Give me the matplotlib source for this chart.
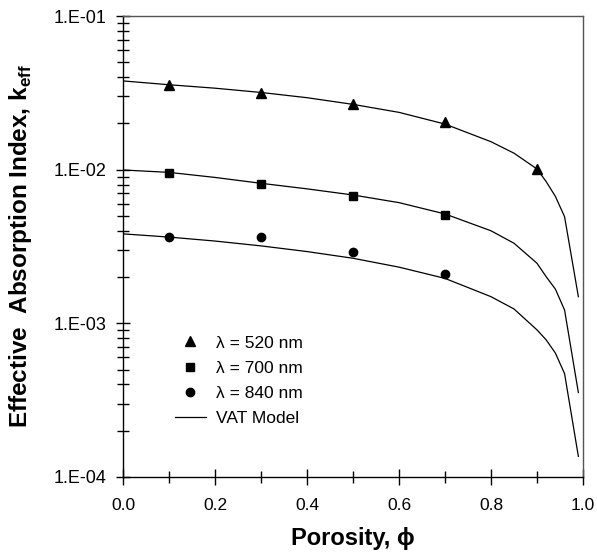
import numpy as np
import matplotlib
matplotlib.use("Agg")
import matplotlib.pyplot as plt
from matplotlib.ticker import FixedLocator, FuncFormatter, LogLocator, MultipleLocator

plt.rcParams['font.family'] = ['Liberation Sans', 'DejaVu Sans']
plt.rcParams['mathtext.fontset'] = 'custom'
plt.rcParams['mathtext.rm'] = 'Liberation Sans'
plt.rcParams['mathtext.bf'] = 'Liberation Sans:bold'

phi_mes = [0.1, 0.3, 0.5, 0.7]
phi_520 = [0.1, 0.3, 0.5, 0.7, 0.9]
k_520 = [0.0356, 0.0317, 0.0266, 0.0204, 0.0101]
k_700 = [0.00946, 0.00807, 0.00675, 0.00505]
k_840 = [0.00364, 0.00366, 0.00290, 0.00209]

# modele VAT
phi_mod = [0.0, 0.1, 0.2, 0.3, 0.4, 0.5, 0.6, 0.7, 0.8, 0.85, 0.9, 0.92, 0.94, 0.96, 0.99]
mod_520 = [0.0378, 0.0357, 0.0339, 0.0318, 0.0294, 0.0266, 0.0236, 0.0198, 0.0152, 0.0128, 0.0101, 0.00836, 0.0067, 0.00494, 0.00149]
mod_700 = [0.00995, 0.0096, 0.0089, 0.00815, 0.0075, 0.00684, 0.0061, 0.00515, 0.0040, 0.00332, 0.00246, 0.00201, 0.00167, 0.00122, 0.000354]
mod_840 = [0.00382, 0.00364, 0.00343, 0.00319, 0.00293, 0.00265, 0.00232, 0.00196, 0.00149, 0.00124, 0.000906, 0.00078, 0.00064, 0.00047, 0.000136]

fig = plt.figure(figsize=(5.97, 5.52), dpi=100)
ax = fig.add_axes([0.206, 0.136, 0.7705, 0.835])

ax.plot(phi_520, k_520, linestyle='none', marker='^', color='black', markersize=6.5, label='λ = 520 nm')
ax.plot(phi_mes, k_700, linestyle='none', marker='s', color='black', markersize=6, label='λ = 700 nm')
ax.plot(phi_mes, k_840, linestyle='none', marker='o', color='black', markersize=6, label='λ = 840 nm')
ax.plot(phi_mod, mod_520, color='black', linewidth=0.9, label='VAT Model')
ax.plot(phi_mod, mod_700, color='black', linewidth=0.9)
ax.plot(phi_mod, mod_840, color='black', linewidth=0.9)

ax.set_yscale('log')
ax.set_xlim(0, 1.0)
ax.set_ylim(1e-4, 1e-1)

ax.xaxis.set_major_locator(MultipleLocator(0.2))
ax.xaxis.set_minor_locator(MultipleLocator(0.1))
ax.xaxis.set_major_formatter(FuncFormatter(lambda v, p: '%.1f' % v))
ax.yaxis.set_major_locator(FixedLocator([1e-4, 1e-3, 1e-2, 1e-1]))
ax.yaxis.set_minor_locator(LogLocator(base=10, subs=np.arange(2, 10)))
ax.yaxis.set_major_formatter(FuncFormatter(lambda v, p: '1.E-%02d' % round(-np.log10(v))))
ax.yaxis.set_minor_formatter(FuncFormatter(lambda v, p: ''))

ax.tick_params(axis='y', which='major', direction='inout', length=10, width=1, labelsize=13, pad=7)
ax.tick_params(axis='y', which='minor', direction='inout', length=8, width=1)
ax.tick_params(axis='x', which='major', direction='inout', length=11, width=1, labelsize=12.5, pad=10)
ax.tick_params(axis='x', which='minor', direction='inout', length=8, width=1)
for s in ax.spines.values():
    s.set_linewidth(1)
ax.spines['top'].set_color('#555555')
ax.spines['right'].set_color('#555555')

ax.set_xlabel('Porosity, ϕ', fontsize=17, fontweight='bold', labelpad=10)
ax.set_ylabel(r'Effective  Absorption Index, k$_{\mathbf{eff}}$', fontsize=17.5, fontweight='bold', labelpad=14)

ax.legend(loc='lower left', bbox_to_anchor=(0.097, 0.095), frameon=False, fontsize=12.5,
          handlelength=1.8, handletextpad=0.6, labelspacing=0.58, borderaxespad=0)

fig.savefig('out.png', dpi=100)
